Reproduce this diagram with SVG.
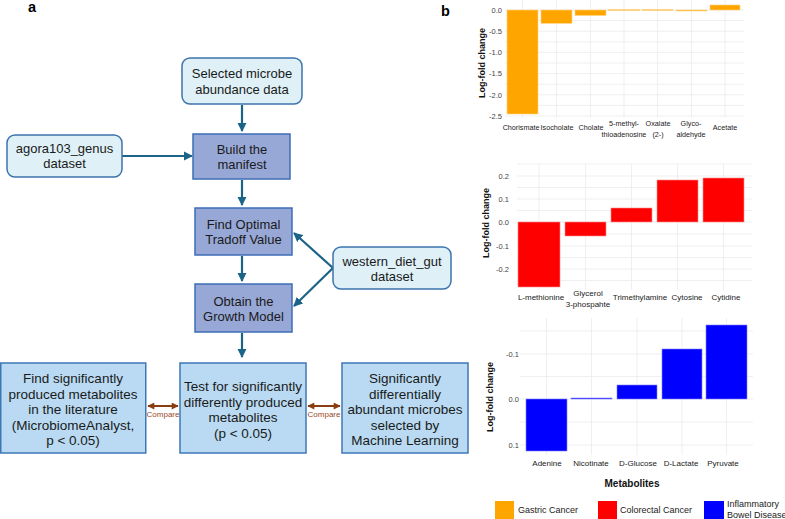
<svg xmlns="http://www.w3.org/2000/svg" width="785" height="519" viewBox="0 0 785 519">
<defs>
<style>
text{font-family:"Liberation Sans",Arial,sans-serif;fill:#1a1a1a}
.lbl{font-size:14.5px;font-weight:bold;fill:#000}
.in{fill:#dff1f7;stroke:#3c74ad;stroke-width:1.5}
.proc{fill:#97a8d7;stroke:#3d6db5;stroke-width:1.5}
.res{fill:#b9daf2;stroke:#3d78b6;stroke-width:1.5}
.t{font-size:13px;text-anchor:middle}
.t2{font-size:13.5px;text-anchor:middle}
.flow{stroke:#1b6387;stroke-width:2.2;fill:none}
.cmp{stroke:#8b3d12;stroke-width:2;fill:none}
.cmpt{font-size:8px;fill:#9b4a1e;text-anchor:middle}
.grid{stroke:#ebebeb;stroke-width:0.8}
.tick{font-size:7.5px;fill:#444;text-anchor:end}
.xl{font-size:8px;fill:#222;text-anchor:middle}
.xs{font-size:7.2px;fill:#222;text-anchor:middle}
.yt{font-size:9px;font-weight:bold;fill:#111;text-anchor:middle}
.og{fill:#ffa500;stroke:#ffd27f;stroke-width:0.6}
.rd{fill:#ff0000;stroke:#ff8c8c;stroke-width:0.6}
.bl{fill:#0000ff;stroke:#8080ff;stroke-width:0.6}
.lg{font-size:9px;fill:#222}
</style>
<marker id="ah" viewBox="0 0 10 10" refX="9" refY="5" markerWidth="4.2" markerHeight="4.2" orient="auto"><path d="M0,0 L10,5 L0,10 z" fill="#1b6387"/></marker>
<marker id="ca" viewBox="0 0 10 10" refX="9" refY="5" markerWidth="4" markerHeight="3.5" orient="auto-start-reverse"><path d="M0,0 L10,5 L0,10 z" fill="#8b3d12"/></marker>
</defs>

<text class="lbl" x="28" y="12">a</text>
<text class="lbl" x="441" y="16">b</text>

<g id="connectors">
<line class="flow" x1="242" y1="105" x2="242" y2="131" marker-end="url(#ah)"/>
<line class="flow" x1="122" y1="156" x2="192" y2="156" marker-end="url(#ah)"/>
<line class="flow" x1="242" y1="180" x2="242" y2="205" marker-end="url(#ah)"/>
<line class="flow" x1="333" y1="268" x2="294" y2="233" marker-end="url(#ah)"/>
<line class="flow" x1="333" y1="268" x2="294" y2="306" marker-end="url(#ah)"/>
<line class="flow" x1="242" y1="256" x2="242" y2="281" marker-end="url(#ah)"/>
<line class="flow" x1="242" y1="333" x2="242" y2="357" marker-end="url(#ah)"/>
<line class="cmp" x1="148" y1="406" x2="178" y2="406" marker-start="url(#ca)" marker-end="url(#ca)"/>
<text class="cmpt" x="163" y="417">Compare</text>
<line class="cmp" x1="308" y1="406" x2="340" y2="406" marker-start="url(#ca)" marker-end="url(#ca)"/>
<text class="cmpt" x="324" y="417">Compare</text>
</g>

<g id="n-selected"><rect class="in" x="182" y="58" width="120" height="46" rx="8"/>
<text class="t" x="242" y="78">Selected microbe</text><text class="t" x="242" y="94">abundance data</text></g>
<g id="n-agora"><rect class="in" x="7" y="135" width="115" height="42" rx="8"/>
<text class="t" x="64.5" y="153">agora103_genus</text><text class="t" x="64.5" y="168">dataset</text></g>
<g id="n-build"><rect class="proc" x="193" y="134" width="97" height="45"/>
<text class="t" x="242" y="154">Build the</text><text class="t" x="242" y="169">manifest</text></g>
<g id="n-find"><rect class="proc" x="195" y="208" width="97" height="47"/>
<text class="t" x="243.5" y="229">Find Optimal</text><text class="t" x="243.5" y="244">Tradoff Value</text></g>
<g id="n-western"><rect class="in" x="333" y="247" width="118" height="42" rx="8"/>
<text class="t" x="392" y="266">western_diet_gut</text><text class="t" x="392" y="281">dataset</text></g>
<g id="n-obtain"><rect class="proc" x="195" y="284" width="97" height="48"/>
<text class="t" x="243.5" y="306">Obtain the</text><text class="t" x="243.5" y="321">Growth Model</text></g>
<g id="n-lit"><rect class="res" x="0.75" y="363" width="145" height="90"/>
<text class="t2" x="73" y="383">Find significantly</text><text class="t2" x="73" y="398.5">produced metabolites</text><text class="t2" x="73" y="414">in the literature</text><text class="t2" x="73" y="429.5">(MicrobiomeAnalyst,</text><text class="t2" x="73" y="445">p &lt; 0.05)</text></g>
<g id="n-test"><rect class="res" x="180" y="363" width="126" height="90"/>
<text class="t2" x="243" y="391">Test for significantly</text><text class="t2" x="243" y="406.5">differently produced</text><text class="t2" x="243" y="422">metabolites</text><text class="t2" x="243" y="437.5">(p &lt; 0.05)</text></g>
<g id="n-ml"><rect class="res" x="342" y="363" width="126" height="90"/>
<text class="t2" x="405" y="383">Significantly</text><text class="t2" x="405" y="398.5">differentially</text><text class="t2" x="405" y="414">abundant microbes</text><text class="t2" x="405" y="429.5">selected by</text><text class="t2" x="405" y="445">Machine Learning</text></g>

<!-- Chart 1: Gastric -->
<g id="chart-gastric">
<g class="grid">
<line x1="505" y1="10" x2="744" y2="10"/><line x1="505" y1="20.6" x2="744" y2="20.6"/><line x1="505" y1="31.2" x2="744" y2="31.2"/><line x1="505" y1="41.8" x2="744" y2="41.8"/><line x1="505" y1="52.4" x2="744" y2="52.4"/><line x1="505" y1="63" x2="744" y2="63"/><line x1="505" y1="73.6" x2="744" y2="73.6"/><line x1="505" y1="84.2" x2="744" y2="84.2"/><line x1="505" y1="94.8" x2="744" y2="94.8"/><line x1="505" y1="105.4" x2="744" y2="105.4"/><line x1="505" y1="116" x2="744" y2="116"/>
<line x1="522.5" y1="0" x2="522.5" y2="118"/><line x1="556.5" y1="0" x2="556.5" y2="118"/><line x1="590.5" y1="0" x2="590.5" y2="118"/><line x1="624" y1="0" x2="624" y2="118"/><line x1="657.5" y1="0" x2="657.5" y2="118"/><line x1="691.5" y1="0" x2="691.5" y2="118"/><line x1="725" y1="0" x2="725" y2="118"/>
</g>
<text class="tick" x="502" y="13">0.0</text><text class="tick" x="502" y="34">-0.5</text><text class="tick" x="502" y="55">-1.0</text><text class="tick" x="502" y="76">-1.5</text><text class="tick" x="502" y="98">-2.0</text><text class="tick" x="502" y="119">-2.5</text>
<rect class="og" x="507" y="10" width="31" height="104"/>
<rect class="og" x="541" y="10" width="31" height="13.3"/>
<rect class="og" x="575" y="10" width="31" height="5.5"/>
<rect class="og" x="608" y="9.6" width="32" height="0.8"/>
<rect class="og" x="642" y="9.6" width="31" height="0.8"/>
<rect class="og" x="676" y="10" width="31" height="1"/>
<rect class="og" x="710" y="5" width="30" height="5"/>
<text class="xs" x="521" y="130">Chorismate</text><text class="xs" x="557" y="130">Isocholate</text><text class="xs" x="591" y="130">Cholate</text>
<text class="xs" x="624" y="126">5-methyl-</text><text class="xs" x="624" y="137">thioadenosine</text>
<text class="xs" x="658" y="126">Oxalate</text><text class="xs" x="658" y="137">(2-)</text>
<text class="xs" x="691" y="126">Glyco-</text><text class="xs" x="691" y="137">aldehyde</text>
<text class="xs" x="725" y="130">Acetate</text>
<text class="yt" transform="translate(485,63) rotate(-90)">Log-fold change</text>
</g>

<!-- Chart 2: Colorectal -->
<g id="chart-colorectal">
<g class="grid">
<line x1="517" y1="164" x2="752" y2="164"/><line x1="517" y1="176" x2="752" y2="176"/><line x1="517" y1="187.5" x2="752" y2="187.5"/><line x1="517" y1="199" x2="752" y2="199"/><line x1="517" y1="210.5" x2="752" y2="210.5"/><line x1="517" y1="222" x2="752" y2="222"/><line x1="517" y1="234" x2="752" y2="234"/><line x1="517" y1="246" x2="752" y2="246"/><line x1="517" y1="257.5" x2="752" y2="257.5"/><line x1="517" y1="269" x2="752" y2="269"/><line x1="517" y1="280.5" x2="752" y2="280.5"/>
<line x1="539" y1="164" x2="539" y2="290"/><line x1="585.5" y1="164" x2="585.5" y2="290"/><line x1="631.5" y1="164" x2="631.5" y2="290"/><line x1="677.5" y1="164" x2="677.5" y2="290"/><line x1="723.5" y1="164" x2="723.5" y2="290"/>
</g>
<text class="tick" x="509" y="179">0.2</text><text class="tick" x="509" y="202">0.1</text><text class="tick" x="509" y="225">0.0</text><text class="tick" x="509" y="249">-0.1</text><text class="tick" x="509" y="272">-0.2</text>
<rect class="rd" x="518" y="222" width="42" height="65"/>
<rect class="rd" x="565" y="222" width="41" height="14"/>
<rect class="rd" x="611" y="208" width="41" height="14"/>
<rect class="rd" x="657" y="180" width="41" height="42"/>
<rect class="rd" x="703" y="178" width="41" height="44"/>
<text class="xl" x="541" y="300">L-methionine</text>
<text class="xl" x="588" y="296">Glycerol</text><text class="xl" x="588" y="307">3-phospahte</text>
<text class="xl" x="640" y="300">Trimethylamine</text>
<text class="xl" x="687" y="300">Cytosine</text>
<text class="xl" x="726" y="300">Cytidine</text>
<text class="yt" transform="translate(489,223) rotate(-90)">Log-fold change</text>
</g>

<!-- Chart 3: IBD -->
<g id="chart-ibd">
<g class="grid">
<line x1="520" y1="331" x2="753" y2="331"/><line x1="520" y1="354" x2="753" y2="354"/><line x1="520" y1="376.5" x2="753" y2="376.5"/><line x1="520" y1="399" x2="753" y2="399"/><line x1="520" y1="422" x2="753" y2="422"/><line x1="520" y1="445" x2="753" y2="445"/>
<line x1="546.5" y1="318" x2="546.5" y2="455"/><line x1="591.5" y1="318" x2="591.5" y2="455"/><line x1="637" y1="318" x2="637" y2="455"/><line x1="682" y1="318" x2="682" y2="455"/><line x1="726.5" y1="318" x2="726.5" y2="455"/>
</g>
<text class="tick" x="519" y="357">-0.1</text><text class="tick" x="519" y="402">0.0</text><text class="tick" x="519" y="448">0.1</text>
<rect class="bl" x="526" y="399" width="41" height="52"/>
<rect class="bl" x="571" y="398" width="41" height="1"/>
<rect class="bl" x="617" y="385" width="40" height="14"/>
<rect class="bl" x="662" y="349" width="40" height="50"/>
<rect class="bl" x="706" y="325" width="41" height="74"/>
<text class="xl" x="547" y="466">Adenine</text><text class="xl" x="591" y="466">Nicotinate</text><text class="xl" x="638" y="466">D-Glucose</text><text class="xl" x="681" y="466">D-Lactate</text><text class="xl" x="723" y="466">Pyruvate</text>
<text class="yt" transform="translate(493,397) rotate(-90)">Log-fold change</text>
<text class="yt" x="632" y="487" style="font-size:10px">Metabolites</text>
</g>

<g id="legend">
<rect x="495" y="501" width="19" height="19" fill="#ffa500"/><text class="lg" x="518" y="513">Gastric Cancer</text>
<rect x="598" y="501" width="19" height="19" fill="#ff0000"/><text class="lg" x="620" y="513">Colorectal Cancer</text>
<rect x="704" y="501" width="20" height="19" fill="#0000ff"/><text class="lg" x="727" y="507">Inflammatory</text><text class="lg" x="727" y="518">Bowel Disease</text>
</g>
</svg>
